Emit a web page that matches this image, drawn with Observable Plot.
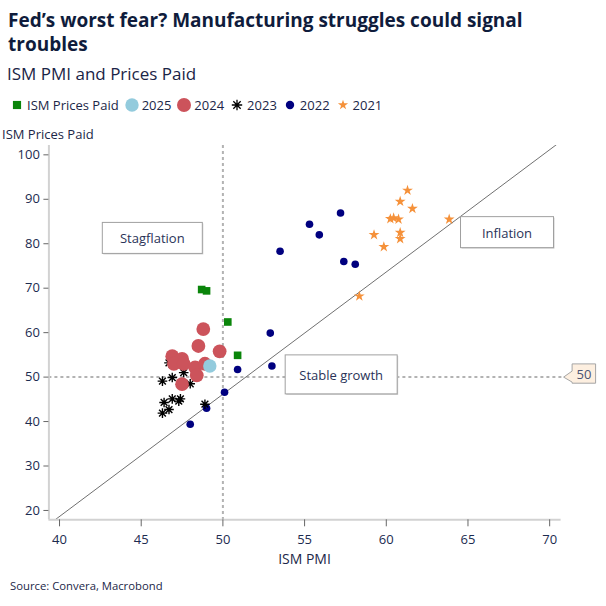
<!DOCTYPE html>
<html>
<head>
<meta charset="utf-8">
<script src="https://cdn.jsdelivr.net/npm/d3@7"></script>
<script src="https://cdn.jsdelivr.net/npm/@observablehq/plot@0.6"></script>
<style>
  body { margin: 0; background: #fff; font-family: "Open Sans", sans-serif; color: #1c2748; }
  #page { position: relative; width: 606px; height: 606px; overflow: hidden; }
  .title { position: absolute; left: 8px; top: 8px; font-size: 19px; font-weight: 700; line-height: 24px; color: #0f1c3c; white-space: nowrap; }
  .subtitle { position: absolute; left: 7px; top: 63px; font-size: 17px; line-height: 22px; color: #1a2446; white-space: nowrap; }
  #legend { position: absolute; left: 10px; top: 96px; display: flex; align-items: center; font-size: 13px; line-height: 18px; white-space: nowrap; }
  #legend .item { display: flex; align-items: center; margin-right: 6px; }
  #legend svg { margin-right: 3px; }
  .ylab { position: absolute; left: 2px; top: 126px; font-size: 13px; line-height: 16px; white-space: nowrap; }
  #chart { position: absolute; left: 0; top: 140px; }
  .xlab { position: absolute; left: 0; width: 609px; text-align: center; top: 550px; font-size: 14px; line-height: 18px; }
  .source { position: absolute; left: 10px; top: 578px; font-size: 11.3px; line-height: 16px; }
</style>
</head>
<body>
<div id="page">
  <div class="title">Fed’s worst fear? Manufacturing struggles could signal<br>troubles</div>
  <div class="subtitle">ISM PMI and Prices Paid</div>
  <div id="legend"></div>
  <div class="ylab">ISM Prices Paid</div>
  <div id="chart"></div>
  <div class="xlab">ISM PMI</div>
  <div class="source">Source: Convera, Macrobond</div>
</div>
<script>
// ISM manufacturing PMI (x) vs. ISM Prices Paid (y), monthly readings as [pmi, prices]
const pricesPaidLatest = [[48.7, 69.7], [49.0, 69.4], [50.3, 62.4], [50.9, 54.9]];
const year2025 = [[49.2, 52.5]];
const year2024 = [
  [48.8, 60.8], [48.5, 57.0], [49.8, 55.8], [46.9, 54.7], [47.5, 54.1], [47.0, 53.0],
  [47.6, 53.0], [48.3, 52.2], [48.9, 53.0], [48.4, 50.4], [47.5, 48.4]
];
const year2023 = [
  [46.7, 53.2], [46.3, 49.1], [46.9, 49.9], [47.6, 51.0], [48.0, 48.5], [46.4, 44.3],
  [46.9, 45.1], [47.3, 44.6], [47.4, 45.1], [46.7, 42.7], [46.3, 41.9], [48.9, 43.9]
];
const year2022 = [
  [57.2, 86.9], [55.3, 84.4], [55.9, 82.0], [53.5, 78.3], [57.4, 76.0], [58.1, 75.4],
  [52.9, 59.9], [50.9, 51.7], [53.0, 52.5], [50.1, 46.6], [49.0, 43.0], [48.0, 39.4]
];
const year2021 = [
  [61.3, 92.0], [60.85, 89.5], [61.6, 87.9], [60.25, 85.6], [60.45, 85.8], [60.75, 85.5],
  [63.85, 85.5], [59.25, 82.0], [60.85, 82.5], [60.85, 81.1], [59.85, 79.3], [58.35, 68.2]
];

// Axis ticks and the 50 expansion/contraction threshold
const xTicks = [40, 45, 50, 55, 60, 65, 70];
const yTicks = [20, 30, 40, 50, 60, 70, 80, 90, 100];
const threshold = 50;

// Trend line through the scatter: prices = intercept + slope * pmi
const trend = { slope: 2.75, intercept: -91.35 };

const FONT = "Open Sans, sans-serif";
const INK = "#1c2b50";

// Eight-armed asterisk symbol for the 2023 readings
const asterisk8 = {
  draw(context, size) {
    const r = Math.sqrt(size / Math.PI);
    for (let k = 0; k < 4; ++k) {
      const a = (k * Math.PI) / 4, c = r * Math.cos(a), s = r * Math.sin(a);
      context.moveTo(c, s);
      context.lineTo(-c, -s);
    }
  }
};

const series = [
  { label: "ISM Prices Paid", data: pricesPaidLatest, symbol: "square", r: 4.3, fill: "#0a850a", legendR: 4.6 },
  { label: "2025", data: year2025, symbol: "circle", r: 6.7, fill: "#93cbdd", legendR: 6.7 },
  { label: "2024", data: year2024, symbol: "circle", r: 6.9, fill: "#cc535b", legendR: 7 },
  { label: "2023", data: year2023, symbol: asterisk8, r: 4.8, stroke: "#000", legendR: 5.2 },
  { label: "2022", data: year2022, symbol: "circle", r: 3.8, fill: "#00007f", legendR: 4.2 },
  { label: "2021", data: year2021, symbol: "star", r: 3.4, fill: "#f5913a", legendR: 3.2 }
];

// Legend row
const legend = d3.select("#legend");
for (const s of series) {
  const item = legend.append("div").attr("class", "item");
  const sw = item.append("svg").attr("width", 14).attr("height", 14);
  const sym = typeof s.symbol === "string"
    ? { circle: d3.symbolCircle, square: d3.symbolSquare, star: d3.symbolStar }[s.symbol]
    : s.symbol;
  sw.append("path")
    .attr("transform", "translate(7,7)")
    .attr("d", d3.symbol(sym, Math.PI * s.legendR * s.legendR)())
    .attr("fill", s.stroke ? "none" : s.fill)
    .attr("stroke", s.stroke || "none")
    .attr("stroke-width", s.stroke ? 1.3 : 0);
  item.append("span").text(s.label);
}

const xDomain = [39.35, 70.7];
const yDomain = [17.9, 102.1];
const trendPoints = xDomain.map((x) => ({ x, y: trend.intercept + trend.slope * x }));

// Quadrant captions, anchored in data space
const callouts = [
  { text: "Stagflation", pmi: 45.71, prices: 81.2, w: 100, h: 31 },
  { text: "Inflation", pmi: 67.42, prices: 82.5, w: 93, h: 31 },
  { text: "Stable growth", pmi: 57.27, prices: 50.5, w: 112, h: 39 }
];

function calloutBoxes(index, { x, y }) {
  const g = d3.create("svg:g").attr("font-family", FONT).attr("font-size", 13);
  for (const c of callouts) {
    const cx = x(c.pmi), cy = y(c.prices);
    g.append("rect")
      .attr("x", cx - c.w / 2 + 1).attr("y", cy - c.h / 2 + 1)
      .attr("width", c.w).attr("height", c.h)
      .attr("fill", "#cfcfcf");
    g.append("rect")
      .attr("x", cx - c.w / 2).attr("y", cy - c.h / 2)
      .attr("width", c.w).attr("height", c.h)
      .attr("fill", "#fff").attr("stroke", "#a0a0a0").attr("stroke-width", 1);
    g.append("text")
      .attr("x", cx).attr("y", cy + 0.5)
      .attr("text-anchor", "middle").attr("dominant-baseline", "central")
      .attr("fill", "#2a3358").text(c.text);
  }
  return g.node();
}

// Value tag for the threshold line at the right edge of the plot
function thresholdTag(index, { y }, values, { width, marginRight }) {
  const tx = width - marginRight + 3, ty = y(threshold);
  const g = d3.create("svg:g");
  g.append("path")
    .attr("d", `M${tx},${ty + 0.5} L${tx + 8.5},${ty - 5.5} L${tx + 8.5},${ty - 12.7} L${tx + 32},${ty - 12.7} L${tx + 32},${ty + 6.6} L${tx + 8.5},${ty + 6.6} L${tx + 8.5},${ty + 5.5} Z`)
    .attr("fill", "#fdefe0").attr("stroke", "#a5a5a5").attr("stroke-width", 1);
  g.append("text")
    .attr("x", tx + 20.3).attr("y", ty - 2.8)
    .attr("text-anchor", "middle").attr("dominant-baseline", "central")
    .attr("font-family", FONT).attr("font-size", 13)
    .attr("fill", "#4a5272").text(threshold);
  return g.node();
}

const dash = { stroke: "#b3b3b3", strokeWidth: 2, strokeDasharray: "3,3" };

const chart = Plot.plot({
  width: 606,
  height: 420,
  marginTop: 5,
  marginBottom: 40.7,
  marginLeft: 48.4,
  marginRight: 45.4,
  style: { fontFamily: FONT, fontSize: "13px", background: "transparent" },
  x: { domain: xDomain },
  y: { domain: yDomain },
  marks: [
    Plot.ruleX([threshold], dash),
    Plot.ruleY([threshold], { ...dash, insetRight: -3 }),
    Plot.line(trendPoints, { x: "x", y: "y", stroke: "#707070", strokeWidth: 1, clip: true }),
    Plot.ruleX([xDomain[0]], { stroke: "#d2d2d2", strokeWidth: 2 }),
    Plot.ruleY([yDomain[0]], { stroke: "#d2d2d2", strokeWidth: 2 }),
    Plot.axisX(xTicks, { tickSize: 7, tickPadding: 8, stroke: "#666", fill: INK, label: null }),
    Plot.axisY(yTicks, { tickSize: 5, tickPadding: 4, stroke: "#666", fill: INK, label: null }),
    ...series.slice().reverse().map((s) =>
      Plot.dot(s.data, {
        x: (d) => d[0],
        y: (d) => d[1],
        symbol: s.symbol,
        r: s.r,
        fill: s.stroke ? "none" : s.fill,
        stroke: s.stroke || "none",
        strokeWidth: s.stroke ? 1.4 : 0
      })
    ),
    calloutBoxes,
    thresholdTag
  ]
});

document.getElementById("chart").append(chart);
</script>
</body>
</html>
